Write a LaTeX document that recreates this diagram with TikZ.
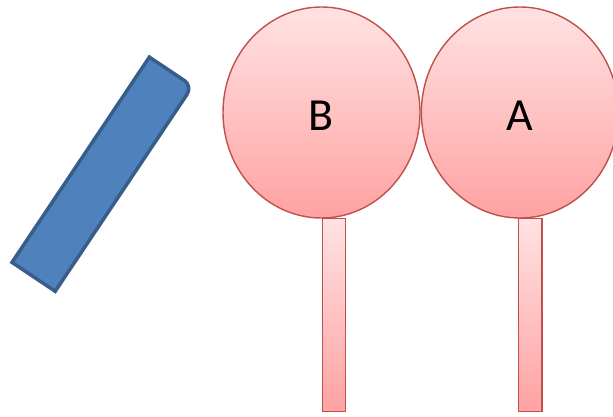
\documentclass[tikz,border=0pt]{standalone}
\usepackage{fontspec}
\setmainfont{Carlito}
\usepackage{tikz}
\usetikzlibrary{shapes.geometric,positioning}
\definecolor{pinktop}{RGB}{255,226,226}
\definecolor{pinkbot}{RGB}{255,162,162}
\definecolor{pinkline}{RGB}{192,80,77}
\definecolor{barfill}{RGB}{79,129,189}
\definecolor{barline}{RGB}{56,93,138}

\begin{document}
\begin{tikzpicture}[x=1pt,y=1pt,
   ball/.style={ellipse,draw=pinkline,line width=1.4pt,top color=pinktop,bottom color=pinkbot,
     minimum width=197pt,minimum height=211pt,inner sep=0pt,text height=35pt,
     font=\fontsize{46}{50}\selectfont},
   stick/.style={rectangle,draw=pinkline,line width=1.4pt,top color=pinktop,bottom color=pinkbot,
     minimum width=23.5pt,minimum height=192.5pt,inner sep=0pt,anchor=north west},
   bar/.style={draw=barline,fill=barfill,line width=3.5pt}]
   \useasboundingbox (0,0) rectangle (613,416);
   % the tilted bar
   \begin{scope}[shift={(102.3,241.8)},rotate=-33.8]
    \draw[bar] (-26,-123.5) -- (26,-123.5) -- (26,113.5)
      arc[start angle=0,end angle=90,radius=10] -- (-26,123.5) -- cycle;
   \end{scope}
   % the two pendulums
   \node[stick] (s_B) at (321.5,198) {};
   \node[stick] (s_A) at (517.8,198) {};
   \node[ball] (c_B) at (321.5,303.5) {B};
   \node[ball] (c_A) [right=0pt of c_B] {A};
\end{tikzpicture}
\end{document}
